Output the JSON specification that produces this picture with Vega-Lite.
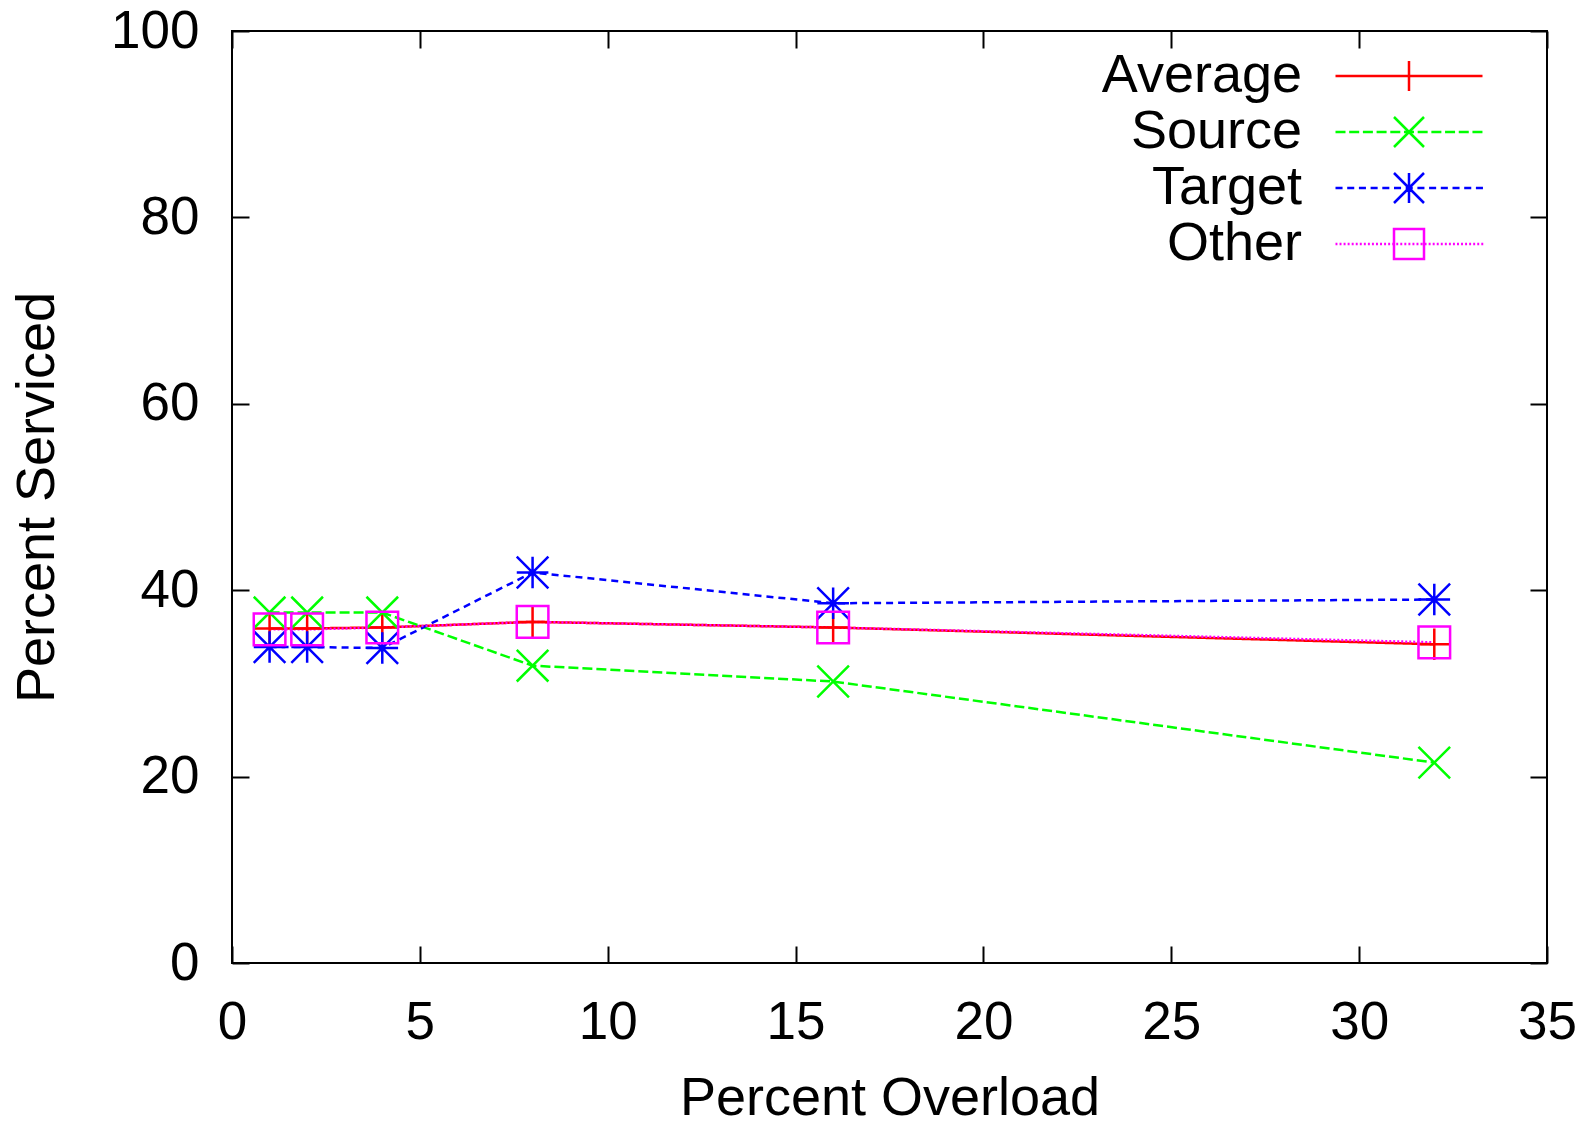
{
  "$schema": "https://vega.github.io/schema/vega-lite/v6.json",
  "width": 1315,
  "height": 932,
  "autosize": {"type": "none"},
  "padding": {"left": 232, "top": 31, "right": 42, "bottom": 163},
  "background": "white",
  "config": {
    "view": {"stroke": "black", "strokeWidth": 2},
    "font": "Liberation Sans",
    "axis": {
      "domain": false,
      "grid": false,
      "tickColor": "black",
      "tickWidth": 2,
      "tickSize": -17,
      "labelPadding": 50,
      "labelFont": "Liberation Sans",
      "labelFontSize": 53,
      "labelColor": "black",
      "labelOverlap": false,
      "labelFlush": false,
      "titleFont": "Liberation Sans",
      "titleFontSize": 54,
      "titleFontWeight": "normal",
      "titleColor": "black"
    }
  },
  "data": {
    "values": [
      {"overload": 1, "serviced": 35.9, "series": "Average"},
      {"overload": 2, "serviced": 35.9, "series": "Average"},
      {"overload": 4, "serviced": 36.0, "series": "Average"},
      {"overload": 8, "serviced": 36.6, "series": "Average"},
      {"overload": 16, "serviced": 36.0, "series": "Average"},
      {"overload": 32, "serviced": 34.2, "series": "Average"},
      {"overload": 1, "serviced": 37.6, "series": "Source"},
      {"overload": 2, "serviced": 37.6, "series": "Source"},
      {"overload": 4, "serviced": 37.6, "series": "Source"},
      {"overload": 8, "serviced": 31.9, "series": "Source"},
      {"overload": 16, "serviced": 30.2, "series": "Source"},
      {"overload": 32, "serviced": 21.5, "series": "Source"},
      {"overload": 1, "serviced": 33.9, "series": "Target"},
      {"overload": 2, "serviced": 33.9, "series": "Target"},
      {"overload": 4, "serviced": 33.8, "series": "Target"},
      {"overload": 8, "serviced": 41.9, "series": "Target"},
      {"overload": 16, "serviced": 38.6, "series": "Target"},
      {"overload": 32, "serviced": 39.0, "series": "Target"},
      {"overload": 1, "serviced": 35.8, "series": "Other"},
      {"overload": 2, "serviced": 35.8, "series": "Other"},
      {"overload": 4, "serviced": 36.0, "series": "Other"},
      {"overload": 8, "serviced": 36.6, "series": "Other"},
      {"overload": 16, "serviced": 36.0, "series": "Other"},
      {"overload": 32, "serviced": 34.4, "series": "Other"}
    ]
  },
  "layer": [
    {
      "mark": {"type": "line", "strokeWidth": 2.5, "strokeCap": "butt"},
      "encoding": {
        "x": {"field": "overload", "type": "quantitative", "scale": {"domain": [0, 35], "nice": false, "zero": false},
              "axis": {"orient": "bottom", "values": [0, 5, 10, 15, 20, 25, 30, 35], "title": "Percent Overload", "titlePadding": 22}},
        "y": {"field": "serviced", "type": "quantitative", "scale": {"domain": [0, 100], "nice": false},
              "axis": {"orient": "left", "values": [0, 20, 40, 60, 80, 100], "title": "Percent Serviced", "titlePadding": 46}},
        "stroke": {"field": "series", "type": "nominal",
                  "scale": {"range": ["#ff0000", "#ff00ff", "#00ff00", "#0000ff"]},
                  "legend": null},
        "strokeDash": {"field": "series", "type": "nominal",
                       "scale": {"range": [[1, 0], [2, 2], [10, 4], [7, 5]]},
                       "legend": null},
        "order": {"field": "overload", "type": "quantitative"}
      }
    },
    {
      "transform": [{"filter": "datum.series === 'Average'"}],
      "mark": {"type": "point", "filled": false, "strokeWidth": 2.5, "size": 1000, "opacity": 1, "shape": "M-1,0L1,0M0,-1L0,1"},
      "encoding": {
        "x": {"field": "overload", "type": "quantitative",
              "axis": {"orient": "top", "values": [0, 5, 10, 15, 20, 25, 30, 35], "labels": false, "title": null}},
        "y": {"field": "serviced", "type": "quantitative",
              "axis": {"orient": "right", "values": [0, 20, 40, 60, 80, 100], "labels": false, "title": null}},
        "stroke": {"field": "series", "type": "nominal", "legend": null}
      }
    },
    {
      "transform": [{"filter": "datum.series === 'Source'"}],
      "mark": {"type": "point", "filled": false, "strokeWidth": 2.5, "size": 1000, "opacity": 1, "shape": "M-1,-1L1,1M-1,1L1,-1"},
      "encoding": {
        "x": {"field": "overload", "type": "quantitative", "axis": null},
        "y": {"field": "serviced", "type": "quantitative", "axis": null},
        "stroke": {"field": "series", "type": "nominal", "legend": null}
      }
    },
    {
      "transform": [{"filter": "datum.series === 'Target'"}],
      "mark": {"type": "point", "filled": false, "strokeWidth": 2.5, "size": 1000, "opacity": 1, "shape": "M-1,0L1,0M0,-1L0,1M-1,-1L1,1M-1,1L1,-1"},
      "encoding": {
        "x": {"field": "overload", "type": "quantitative", "axis": null},
        "y": {"field": "serviced", "type": "quantitative", "axis": null},
        "stroke": {"field": "series", "type": "nominal", "legend": null}
      }
    },
    {
      "transform": [{"filter": "datum.series === 'Other'"}],
      "mark": {"type": "point", "filled": false, "strokeWidth": 2.5, "size": 1000, "opacity": 1, "shape": "M-1,-1L1,-1L1,1L-1,1Z"},
      "encoding": {
        "x": {"field": "overload", "type": "quantitative", "axis": null},
        "y": {"field": "serviced", "type": "quantitative", "axis": null},
        "stroke": {"field": "series", "type": "nominal", "legend": null}
      }
    },
    {
      "mark": {"type": "point", "filled": false, "strokeWidth": 2.5, "size": 900, "opacity": 0},
      "encoding": {
        "x": {"field": "overload", "type": "quantitative", "axis": null},
        "y": {"field": "serviced", "type": "quantitative", "axis": null},
        "color": {"field": "series", "type": "nominal",
                  "scale": {"domain": ["Average", "Source", "Target", "Other"], "range": ["#ff0000", "#00ff00", "#0000ff", "#ff00ff"]},
                  "legend": {
                    "title": null, "orient": "none", "legendX": 1150, "legendY": 18, "padding": 0,
                    "symbolSize": 900, "symbolStrokeWidth": 2.5, "symbolOpacity": 1,
                    "labelFont": "Liberation Sans", "labelFontSize": 54, "labelColor": "black",
                    "labelAlign": "right", "labelBaseline": "middle", "labelOffset": -134, "labelLimit": 0, "rowPadding": 2
                  }},
        "shape": {"field": "series", "type": "nominal",
                  "scale": {"domain": ["Average", "Source", "Target", "Other"],
                            "range": [
                              "M-4.9,0L4.9,0M0,-1L0,1",
                              "M-4.9,0L-4.233,0M-3.987,0L-3.32,0M-3.074,0L-2.407,0M-2.161,0L-1.494,0M-1.248,0L-0.581,0M-0.335,0L0.332,0M0.578,0L1.245,0M1.491,0L2.158,0M2.404,0L3.071,0M3.317,0L3.984,0M4.23,0L4.897,0M-1,-1L1,1M-1,1L1,-1",
                              "M-4.9,0L-4.43,0M-4.12,0L-3.65,0M-3.34,0L-2.87,0M-2.56,0L-2.09,0M-1.78,0L-1.31,0M-1,0L-0.53,0M-0.22,0L0.25,0M0.56,0L1.03,0M1.34,0L1.81,0M2.12,0L2.59,0M2.9,0L3.37,0M3.68,0L4.15,0M4.46,0L4.93,0M0,-1L0,1M-1,-1L1,1M-1,1L1,-1",
                              "M-4.9,0L-4.77,0M-4.63,0L-4.5,0M-4.36,0L-4.23,0M-4.09,0L-3.96,0M-3.82,0L-3.69,0M-3.55,0L-3.42,0M-3.28,0L-3.15,0M-3.01,0L-2.88,0M-2.74,0L-2.61,0M-2.47,0L-2.34,0M-2.2,0L-2.07,0M-1.93,0L-1.8,0M-1.66,0L-1.53,0M-1.39,0L-1.26,0M-1.12,0L-0.99,0M-0.85,0L-0.72,0M-0.58,0L-0.45,0M-0.31,0L-0.18,0M-0.04,0L0.09,0M0.23,0L0.36,0M0.5,0L0.63,0M0.77,0L0.9,0M1.04,0L1.17,0M1.31,0L1.44,0M1.58,0L1.71,0M1.85,0L1.98,0M2.12,0L2.25,0M2.39,0L2.52,0M2.66,0L2.79,0M2.93,0L3.06,0M3.2,0L3.33,0M3.47,0L3.6,0M3.74,0L3.87,0M4.01,0L4.14,0M4.28,0L4.41,0M4.55,0L4.68,0M4.82,0L4.95,0M-1,-1L1,-1L1,1L-1,1Z"
                            ]},
                  "legend": {
                    "title": null, "orient": "none", "legendX": 1150, "legendY": 18, "padding": 0,
                    "symbolSize": 900, "symbolStrokeWidth": 2.5, "symbolOpacity": 1,
                    "labelFont": "Liberation Sans", "labelFontSize": 54, "labelColor": "black",
                    "labelAlign": "right", "labelBaseline": "middle", "labelOffset": -134, "labelLimit": 0, "rowPadding": 2
                  }}
      }
    }
  ],
  "resolve": {
    "axis": {"x": "independent", "y": "independent"}
  }
}
